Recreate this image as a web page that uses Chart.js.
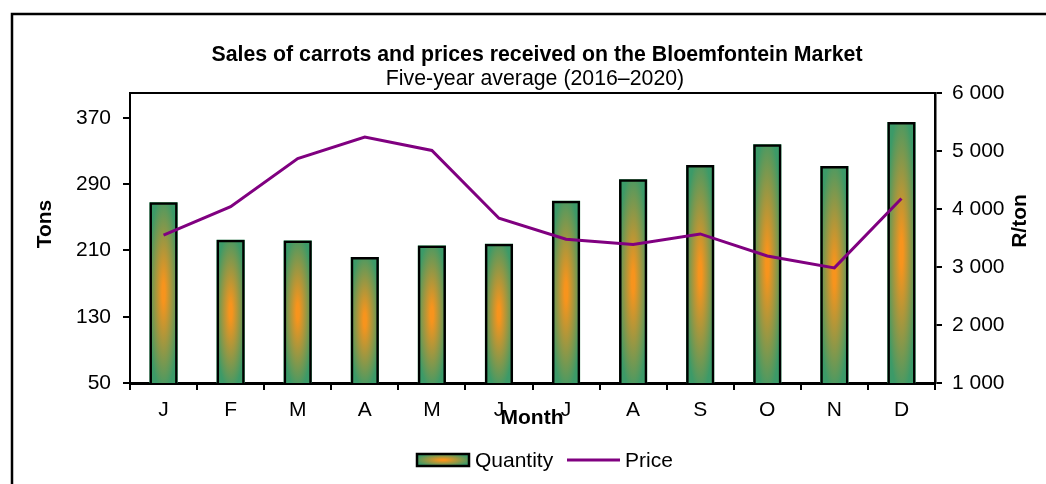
<!DOCTYPE html>
<html>
<head>
<meta charset="utf-8">
<script src="https://cdn.jsdelivr.net/npm/chart.js@4"></script>
<style>
  html, body { margin: 0; padding: 0; background: #fff; }
  #wrap { width: 1046px; height: 484px; position: relative; }
</style>
</head>
<body>
<div id="wrap"><canvas id="carrotChart"></canvas></div>
<script>
// data
const months = ['J', 'F', 'M', 'A', 'M', 'J', 'J', 'A', 'S', 'O', 'N', 'D'];
const quantity = [268, 223, 222, 202, 216, 218, 270, 296, 313, 338, 312, 365];
const price = [3550, 4040, 4870, 5240, 5010, 3840, 3480, 3390, 3570, 3190, 2985, 4180];
const tonsTicks = [50, 130, 210, 290, 370];
const priceTicks = [1000, 2000, 3000, 4000, 5000, 6000];

const GREEN = '#3c9a68';
const ORANGE = '#f7941d';
const PURPLE = '#800080';
const FONT = "'Liberation Sans', Arial, sans-serif";

// elliptical "from centre" fill, like the spreadsheet gradient
function paintGradientBox(ctx, left, top, w, h, clip) {
  ctx.save();
  ctx.beginPath();
  if (clip) {
    ctx.rect(clip.left, clip.top, clip.right - clip.left, clip.bottom - clip.top);
    ctx.clip();
    ctx.beginPath();
  }
  ctx.rect(left, top, w, h);
  ctx.clip();
  ctx.fillStyle = GREEN;
  ctx.fillRect(left, top, w, h);
  ctx.translate(left + w / 2, top + h / 2);
  ctx.scale(w * 0.55, h * 0.55);
  const g = ctx.createRadialGradient(0, 0, 0, 0, 0, 1);
  g.addColorStop(0, ORANGE);
  g.addColorStop(0.1, ORANGE);
  g.addColorStop(1, GREEN);
  ctx.fillStyle = g;
  ctx.fillRect(-1, -1, 2, 2);
  ctx.restore();
}

const decorations = {
  id: 'decorations',
  beforeDatasetDraw(chart, args) {
    if (args.index !== 0) return;
    const ctx = chart.ctx;
    const area = chart.chartArea;
    args.meta.data.forEach(bar => {
      const p = bar.getProps(['x', 'y', 'base', 'width'], true);
      const bottom = Math.min(p.base, area.bottom);
      paintGradientBox(ctx, p.x - p.width / 2, p.y, p.width, bottom - p.y, area);
    });
  },
  afterDraw(chart) {
    const ctx = chart.ctx;
    const area = chart.chartArea;
    ctx.save();

    // outer frame
    ctx.strokeStyle = '#000';
    ctx.lineWidth = 2.5;
    ctx.beginPath();
    ctx.moveTo(12, 490);
    ctx.lineTo(12, 14);
    ctx.lineTo(1050, 14);
    ctx.stroke();

    // plot area box top edge
    ctx.lineWidth = 2;
    ctx.beginPath();
    ctx.moveTo(area.left, area.top);
    ctx.lineTo(area.right, area.top);
    ctx.stroke();

    ctx.fillStyle = '#000';
    ctx.textAlign = 'center';
    ctx.textBaseline = 'middle';
    ctx.font = 'bold 21.3px ' + FONT;
    ctx.fillText('Sales of carrots and prices received on the Bloemfontein Market', 537, 55);
    ctx.font = '21.3px ' + FONT;
    ctx.fillText('Five-year average (2016\u20132020)', 535, 79);

    ctx.font = 'bold 21px ' + FONT;
    ctx.fillText('Month', 532, 418);

    ctx.save();
    ctx.translate(45, 224);
    ctx.rotate(-Math.PI / 2);
    ctx.fillText('Tons', 0, 0);
    ctx.restore();
    ctx.save();
    ctx.translate(1020, 221);
    ctx.rotate(-Math.PI / 2);
    ctx.fillText('R/ton', 0, 0);
    ctx.restore();

    // legend
    paintGradientBox(ctx, 417, 454, 52, 12);
    ctx.lineWidth = 2.5;
    ctx.strokeRect(417, 454, 52, 12);
    ctx.font = '21px ' + FONT;
    ctx.textAlign = 'left';
    ctx.fillText('Quantity', 475, 461);
    ctx.strokeStyle = PURPLE;
    ctx.lineWidth = 3;
    ctx.beginPath();
    ctx.moveTo(567, 460);
    ctx.lineTo(620, 460);
    ctx.stroke();
    ctx.fillText('Price', 625, 461);
    ctx.restore();
  }
};

const fmtSpace = v => String(v).replace(/\B(?=(\d{3})+(?!\d))/g, ' ');

Chart.defaults.font.family = FONT;
Chart.defaults.font.size = 21;
Chart.defaults.color = '#000';

new Chart(document.getElementById('carrotChart'), {
  type: 'bar',
  data: {
    labels: months,
    datasets: [
      {
        label: 'Quantity',
        data: quantity,
        yAxisID: 'y',
        backgroundColor: 'rgba(0,0,0,0)',
        borderColor: '#000',
        borderWidth: 2.5,
        barPercentage: 0.42,
        categoryPercentage: 1,
        order: 1
      },
      {
        type: 'line',
        label: 'Price',
        data: price,
        yAxisID: 'y1',
        borderColor: PURPLE,
        borderWidth: 3,
        pointRadius: 0,
        tension: 0,
        fill: false,
        order: 0
      }
    ]
  },
  options: {
    responsive: true,
    maintainAspectRatio: false,
    animation: false,
    layout: { padding: { top: 93, left: 0, right: 0, bottom: 0 } },
    plugins: {
      legend: { display: false },
      title: { display: false },
      tooltip: { enabled: false }
    },
    scales: {
      x: {
        offset: true,
        grid: { offset: true, drawOnChartArea: false, color: '#000', lineWidth: 2, tickLength: 7 },
        border: { color: '#000', width: 3 },
        ticks: { padding: 8, autoSkip: false, maxRotation: 0, minRotation: 0, color: '#000', font: { size: 21 } },
        afterFit: s => { s.height = 101; }
      },
      y: {
        position: 'left',
        min: 50,
        max: 400,
        afterBuildTicks: s => { s.ticks = tonsTicks.map(v => ({ value: v })); },
        grid: { drawOnChartArea: false, color: '#000', lineWidth: 2, tickLength: 7 },
        border: { color: '#000', width: 2 },
        ticks: { padding: 12 },
        afterFit: s => { s.width = 130; }
      },
      y1: {
        position: 'right',
        min: 1000,
        max: 6000,
        afterBuildTicks: s => { s.ticks = priceTicks.map(v => ({ value: v })); },
        grid: { drawOnChartArea: false, color: '#000', lineWidth: 2, tickLength: 7 },
        border: { color: '#000', width: 2.5 },
        ticks: { padding: 10, callback: v => fmtSpace(v) },
        afterFit: s => { s.width = 111; }
      }
    }
  },
  plugins: [decorations]
});
</script>
</body>
</html>
